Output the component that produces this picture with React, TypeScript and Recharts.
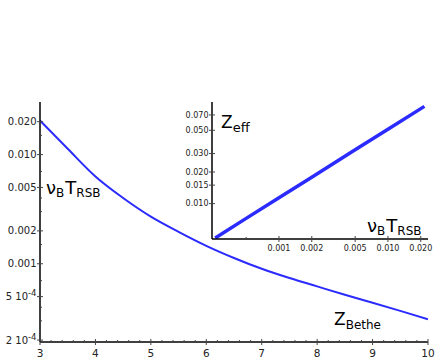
import { Line, LineChart, XAxis, YAxis } from "recharts";

// main curve: nu_B T_RSB against T
const T_VALUES = [3, 3.5, 4, 4.5, 5, 5.5, 6, 6.5, 7, 7.5, 8, 8.5, 9, 9.5, 10];
const NU_T_RSB = [
  0.0205, 0.0113, 0.0063, 0.004, 0.0027, 0.00196, 0.00146, 0.00113, 0.0009,
  0.00074, 0.00062, 0.00052, 0.00044, 0.00037, 0.00031,
];

// inset: Z_eff against nu_B T_RSB
const INSET_NU_T = [0.00026, 0.0005, 0.001, 0.002, 0.005, 0.01, 0.0216];
const INSET_Z_EFF = [0.0047, 0.00723, 0.01136, 0.01785, 0.0326, 0.0512, 0.0845];

const X_MAJOR = [3, 4, 5, 6, 7, 8, 9, 10];
const X_LABELS = ["3", "4", "5", "6", "7", "8", "9", "10"];
const X_MINOR = [
  3.2, 3.4, 3.6, 3.8, 4.2, 4.4, 4.6, 4.8, 5.2, 5.4, 5.6, 5.8, 6.2, 6.4, 6.6,
  6.8, 7.2, 7.4, 7.6, 7.8, 8.2, 8.4, 8.6, 8.8, 9.2, 9.4, 9.6, 9.8,
];
const Y_MAJOR = [0.0002, 0.0005, 0.001, 0.002, 0.005, 0.01, 0.02];
const Y_LABELS = ["2 10^-4", "5 10^-4", "0.001", "0.002", "0.005", "0.010", "0.020"];
const Y_MINOR = [0.0003, 0.0004, 0.0007, 0.0015, 0.003, 0.004, 0.007, 0.015];

const INSET_X_MAJOR = [0.001, 0.002, 0.005, 0.01, 0.02];
const INSET_X_LABELS = ["0.001", "0.002", "0.005", "0.010", "0.020"];
const INSET_X_MINOR = [0.0005];
const INSET_Y_MAJOR = [0.01, 0.015, 0.02, 0.03, 0.05, 0.07];
const INSET_Y_LABELS = ["0.010", "0.015", "0.020", "0.030", "0.050", "0.070"];

const BLUE = "#2b2bff";
const FONT = "DejaVu Sans, Verdana, sans-serif";
const TICK_COLOR = "#444";
const AXIS_LINE = { stroke: "#000", strokeWidth: 1.5 };

type Side = "bottom" | "top" | "left" | "right";

function makeTick(
  side: Side,
  majors: number[],
  labels: string[] | null,
  fontSize: number,
  gap: number,
) {
  return (props: any) => {
    const { x, y, payload } = props;
    const i = majors.indexOf(payload.value);
    const major = i >= 0;
    const inner = major ? 3 : 2;
    const outer = major ? 3 : 0;
    let line;
    if (side === "bottom") line = { x1: x, x2: x, y1: y - inner, y2: y + outer };
    else if (side === "top") line = { x1: x, x2: x, y1: y + inner, y2: y };
    else if (side === "left") line = { x1: x - outer, x2: x + inner, y1: y, y2: y };
    else line = { x1: x - inner, x2: x, y1: y, y2: y };

    let label = null;
    if (labels && major) {
      const [base, exp] = labels[i].split("^");
      const common = {
        fontSize,
        fontFamily: FONT,
        fill: "#222",
      };
      if (side === "bottom") {
        label = (
          <text {...common} x={x} y={y + gap} textAnchor="middle">
            {base}
          </text>
        );
      } else {
        label = (
          <text {...common} x={x - gap} y={y} dy="0.36em" textAnchor="end">
            <tspan>{base}</tspan>
            {exp && (
              <tspan dy={-4} fontSize={fontSize * 0.85}>
                {exp}
              </tspan>
            )}
          </text>
        );
      }
    }
    return (
      <g>
        <line {...line} stroke={TICK_COLOR} strokeWidth={1} />
        {label}
      </g>
    );
  };
}

function Sub({ x, y, main, sub, size, subSize, drop }: any) {
  return (
    <text x={x} y={y} fontFamily={FONT} fontSize={size} fill="#000">
      <tspan>{main}</tspan>
      <tspan fontSize={subSize} dy={drop}>
        {sub}
      </tspan>
    </text>
  );
}

function NuT({ x, y }: { x: number; y: number }) {
  return (
    <text x={x} y={y} fontFamily={FONT} fontSize={18} fill="#000">
      <tspan>ν</tspan>
      <tspan fontSize={12} dy={3}>
        B
      </tspan>
      <tspan dy={-3} dx={1}>
        T
      </tspan>
      <tspan fontSize={12} dy={3}>
        RSB
      </tspan>
    </text>
  );
}

export default function App() {
  const mainData = T_VALUES.map((t, i) => ({ t, v: NU_T_RSB[i] }));
  const insetData = INSET_NU_T.map((x, i) => ({ x, z: INSET_Z_EFF[i] }));
  const xTicks = [...X_MAJOR, ...X_MINOR];
  const yTicks = [...Y_MAJOR, ...Y_MINOR];
  const yDomain = [0.000192, 0.0303];
  const insetXDomain = [0.000243, 0.0233];
  const insetYDomain = [0.0046, 0.093];
  const insetXTicks = [...INSET_X_MAJOR, ...INSET_X_MINOR];

  return (
    <div
      style={{
        position: "absolute",
        left: 0,
        top: 0,
        width: 436,
        height: 359,
        background: "#fff",
      }}
    >
      <div style={{ position: "absolute", left: 0, top: 0 }}>
        <LineChart
          width={436}
          height={359}
          data={mainData}
          margin={{ top: 102, right: 8, bottom: 0, left: 0 }}
        >
          <XAxis
            xAxisId="b"
            dataKey="t"
            type="number"
            domain={[3, 10]}
            ticks={xTicks}
            interval={0}
            height={17}
            tickSize={0}
            tickMargin={0}
            tickLine={false}
            axisLine={AXIS_LINE}
            tick={makeTick("bottom", X_MAJOR, X_LABELS, 10.5, 15)}
            allowDataOverflow
          />
          <XAxis
            xAxisId="top"
            dataKey="t"
            type="number"
            orientation="top"
            domain={[3, 10]}
            ticks={xTicks}
            interval={0}
            height={0}
            tickSize={0}
            tickMargin={0}
            tickLine={false}
            axisLine={AXIS_LINE}
            tick={makeTick("top", X_MAJOR, null, 10, 0)}
            allowDataOverflow
          />
          <YAxis
            yAxisId="l"
            type="number"
            scale="log"
            domain={yDomain}
            ticks={yTicks}
            interval={0}
            width={40}
            tickSize={0}
            tickMargin={0}
            tickLine={false}
            axisLine={AXIS_LINE}
            tick={makeTick("left", Y_MAJOR, Y_LABELS, 10, 3.5)}
            allowDataOverflow
          />
          <YAxis
            yAxisId="r"
            type="number"
            scale="log"
            orientation="right"
            domain={yDomain}
            ticks={yTicks}
            interval={0}
            width={0}
            tickSize={0}
            tickMargin={0}
            tickLine={false}
            axisLine={AXIS_LINE}
            tick={makeTick("right", Y_MAJOR, null, 10, 0)}
            allowDataOverflow
          />
          <Line
            xAxisId="b"
            yAxisId="l"
            dataKey="v"
            type="monotone"
            stroke={BLUE}
            strokeWidth={2}
            dot={false}
            activeDot={false}
            isAnimationActive={false}
          />
          <Line
            xAxisId="top"
            yAxisId="r"
            dataKey="v"
            stroke="none"
            dot={false}
            activeDot={false}
            isAnimationActive={false}
          />
        </LineChart>
      </div>

      <div
        style={{
          position: "absolute",
          left: 212,
          top: 102,
          width: 216,
          height: 137,
          background: "#fff",
        }}
      />

      <div style={{ position: "absolute", left: 172, top: 100 }}>
        <LineChart
          width={264}
          height={155}
          data={insetData}
          margin={{ top: 2, right: 8, bottom: 0, left: 0 }}
        >
          <XAxis
            xAxisId="b"
            dataKey="x"
            type="number"
            scale="log"
            domain={insetXDomain}
            ticks={insetXTicks}
            interval={0}
            height={16}
            tickSize={0}
            tickMargin={0}
            tickLine={false}
            axisLine={AXIS_LINE}
            tick={makeTick("bottom", INSET_X_MAJOR, INSET_X_LABELS, 8, 11.5)}
            allowDataOverflow
          />
          <XAxis
            xAxisId="top"
            dataKey="x"
            type="number"
            scale="log"
            orientation="top"
            domain={insetXDomain}
            ticks={insetXTicks}
            interval={0}
            height={0}
            tickSize={0}
            tickMargin={0}
            tickLine={false}
            axisLine={AXIS_LINE}
            tick={makeTick("top", INSET_X_MAJOR, null, 8, 0)}
            allowDataOverflow
          />
          <YAxis
            yAxisId="l"
            type="number"
            scale="log"
            domain={insetYDomain}
            ticks={INSET_Y_MAJOR}
            interval={0}
            width={40}
            tickSize={0}
            tickMargin={0}
            tickLine={false}
            axisLine={AXIS_LINE}
            tick={makeTick("left", INSET_Y_MAJOR, INSET_Y_LABELS, 8, 3.5)}
            allowDataOverflow
          />
          <YAxis
            yAxisId="r"
            type="number"
            scale="log"
            orientation="right"
            domain={insetYDomain}
            ticks={INSET_Y_MAJOR}
            interval={0}
            width={0}
            tickSize={0}
            tickMargin={0}
            tickLine={false}
            axisLine={AXIS_LINE}
            tick={makeTick("right", INSET_Y_MAJOR, null, 8, 0)}
            allowDataOverflow
          />
          <Line
            xAxisId="b"
            yAxisId="l"
            dataKey="z"
            type="linear"
            stroke={BLUE}
            strokeWidth={3.5}
            dot={false}
            activeDot={false}
            isAnimationActive={false}
          />
          <Line
            xAxisId="top"
            yAxisId="r"
            dataKey="z"
            stroke="none"
            dot={false}
            activeDot={false}
            isAnimationActive={false}
          />
        </LineChart>
      </div>

      <svg
        width={436}
        height={359}
        style={{ position: "absolute", left: 0, top: 0, pointerEvents: "none" }}
      >
        <NuT x={46} y={194} />
        <Sub x={334} y={325} main="Z" sub="Bethe" size={17} subSize={12} drop={4} />
        <Sub x={221} y={128} main="Z" sub="eff" size={17} subSize={13} drop={4} />
        <NuT x={367} y={232} />
      </svg>
    </div>
  );
}
